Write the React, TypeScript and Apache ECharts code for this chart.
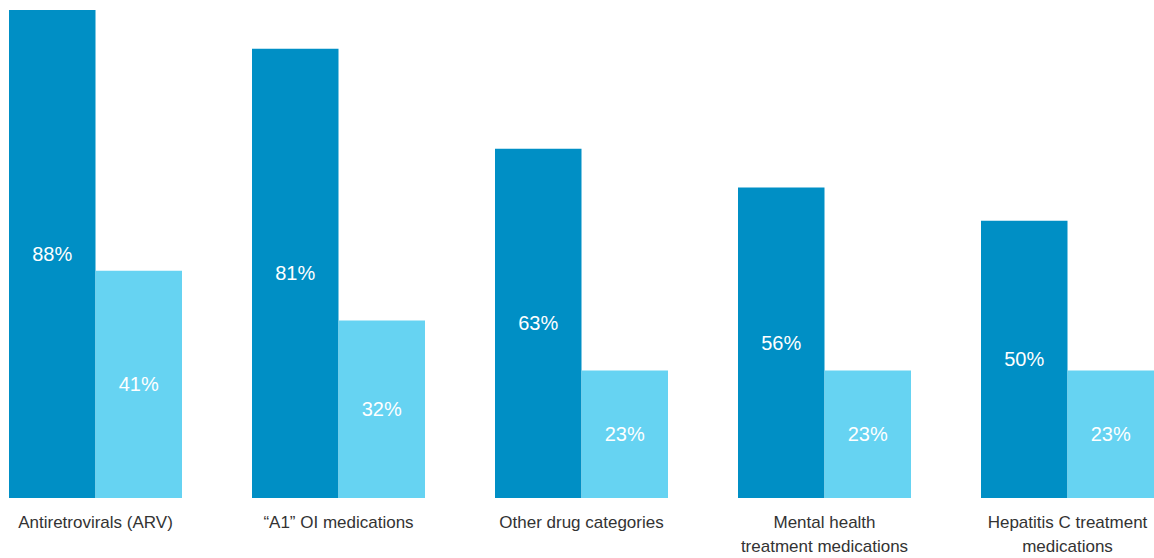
import React, { useEffect, useRef } from "react";
import * as echarts from "echarts";

const categories = [
  "Antiretrovirals (ARV)",
  "\u201CA1\u201D OI medications",
  "Other drug categories",
  "Mental health\ntreatment medications",
  "Hepatitis C treatment\nmedications",
];
const seriesA = [88, 81, 63, 56, 50];
const seriesB = [41, 32, 23, 23, 23];

export default function App() {
  const ref = useRef<HTMLDivElement>(null);
  useEffect(() => {
    if (!ref.current) return;
    const chart = echarts.init(ref.current, undefined, { renderer: "svg" });
    const label = {
      show: true,
      position: "inside" as const,
      color: "#ffffff",
      fontSize: 20,
      fontFamily: "Liberation Sans, Arial, sans-serif",
      formatter: "{c}%",
    };
    chart.setOption({
      animation: false,
      grid: { left: 0, right: 0, top: 10, bottom: 59, containLabel: false },
      xAxis: {
        type: "category",
        data: categories,
        axisLine: { show: false },
        axisTick: { show: false },
        axisLabel: {
          interval: 0,
          margin: 12,
          color: "#333333",
          fontSize: 17,
          lineHeight: 24,
          fontFamily: "Liberation Sans, Arial, sans-serif",
        },
      },
      yAxis: {
        type: "value",
        min: 0,
        max: 88,
        show: false,
        splitLine: { show: false },
      },
      series: [
        {
          type: "bar",
          data: seriesA,
          barWidth: 86.5,
          barGap: "0%",
          itemStyle: { color: "#008FC5" },
          label,
        },
        {
          type: "bar",
          data: seriesB,
          barWidth: 86.5,
          barGap: "0%",
          itemStyle: { color: "#66D3F2" },
          label,
        },
      ],
    });
    return () => chart.dispose();
  }, []);
  return (
    <div
      style={{
        position: "absolute",
        left: 0,
        top: 0,
        width: 1154,
        height: 558,
        overflow: "hidden",
      }}
    >
      <div
        ref={ref}
        style={{ position: "absolute", left: -26.5, top: 0, width: 1215, height: 558 }}
      />
    </div>
  );
}
